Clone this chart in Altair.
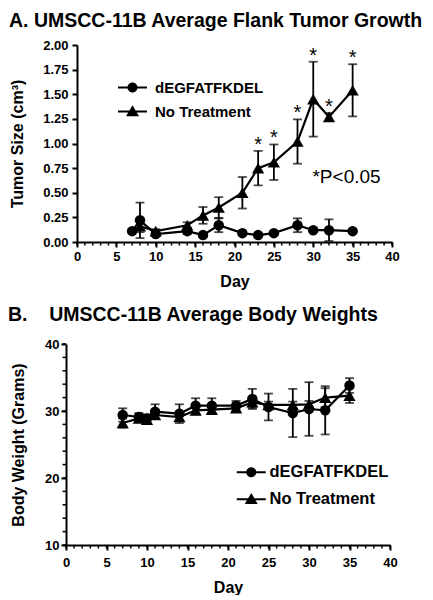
import altair as alt
import pandas as pd

FONT = "Liberation Sans"
G1 = "dEGFATFKDEL"
G2 = "No Treatment"

# ---------- Panel A: tumour size (cm^3), mean and error ----------
a_days_deg = [7, 8, 10, 14, 16, 18, 21, 23, 25, 28, 30, 32, 35]
a_mean_deg = [0.11, 0.22, 0.08, 0.11, 0.07, 0.17, 0.09, 0.07, 0.09, 0.17, 0.12, 0.12, 0.11]
a_err_deg = [0.02, 0.18, 0.02, 0.03, 0.02, 0.07, 0.02, 0.02, 0.02, 0.07, 0.02, 0.11, 0.02]
a_days_nt = [8, 10, 14, 16, 18, 21, 23, 25, 28, 30, 32, 35]
a_mean_nt = [0.16, 0.11, 0.17, 0.27, 0.35, 0.50, 0.75, 0.81, 1.02, 1.45, 1.27, 1.54]
a_err_nt = [0.06, 0.02, 0.03, 0.085, 0.105, 0.16, 0.175, 0.18, 0.225, 0.38, 0.04, 0.265]
a_star_days = [23, 25, 28, 30, 32, 35]
a_note_text = ["*P<0.05"]
a_note_day = [29.9]
a_note_value = [0.66]
a_y_ticks = [0, 0.25, 0.5, 0.75, 1.0, 1.25, 1.5, 1.75, 2.0]

# ---------- Panel B: body weight (grams), mean and error ----------
b_days = [7, 9, 10, 11, 14, 16, 18, 21, 23, 25, 28, 30, 32, 35]
b_mean_deg = [29.4, 29.1, 28.9, 29.9, 29.6, 30.8, 30.8, 30.8, 31.8, 30.6, 29.7, 30.3, 30.1, 33.8]
b_err_deg = [1.0, 0.6, 0.6, 1.1, 1.4, 1.1, 1.1, 0.7, 1.5, 2.0, 3.6, 4.0, 3.6, 1.1]
b_mean_nt = [28.2, 28.9, 28.7, 29.4, 29.1, 30.1, 30.2, 30.4, 31.3, 30.9, 30.9, 31.0, 32.0, 32.3]
b_err_nt = [0.7, 0.5, 0.5, 0.6, 0.6, 0.6, 0.5, 0.5, 0.8, 0.5, 0.5, 0.5, 1.4, 1.1]
b_y_ticks = [10, 20, 30, 40]
b_y_minor = list(range(10, 41, 2))

x_major = list(range(0, 41, 5))
x_minor = list(range(0, 41))

# legend symbols: marker with a line through it
CIRC = "M1,0A1,1,0,1,1,-1,0A1,1,0,1,1,1,0ZM-2.9,-0.2H2.9V0.2H-2.9Z"
TRI = "M0,-1.25L1.3,0.95L-1.3,0.95ZM-2.9,-0.2H2.9V0.2H-2.9Z"


def frame(days, mean, err, group):
    return pd.DataFrame({
        "day": days,
        "mean": mean,
        "lo": [m - e for m, e in zip(mean, err)],
        "hi": [m + e for m, e in zip(mean, err)],
        "group": group,
    })


def panel(df, ydom, yticks, yfmt, yminor, ytitle, ytitle_pad, ylabel_pad,
          xlabel_pad, xtitle_pad, w, h, shift, title, tdx, toff,
          lx, ly, loff, lrow, lfont, extras):
    # `shift` moves the left end of the x axis (and the y axis) left of the group origin
    xs = alt.Scale(domain=[0, 40], nice=False, zero=False, range=[-shift, w])
    ys = alt.Scale(domain=ydom, nice=False, zero=False)
    ax_x = alt.Axis(orient="bottom", values=x_major, title="Day", grid=False,
                    domainColor="black", domainWidth=2, tickColor="black",
                    tickWidth=2, tickSize=5, labelFont=FONT, labelFontSize=13,
                    labelFontWeight="bold", labelColor="black", labelPadding=xlabel_pad,
                    labelFlush=False, labelOverlap=False, titleFont=FONT, titleFontSize=16,
                    titleFontWeight="bold", titleColor="black", titlePadding=xtitle_pad)
    ax_y = alt.Axis(orient="left", values=yticks, format=yfmt, title=ytitle, offset=shift,
                    grid=False, domainColor="black", domainWidth=2,
                    tickColor="black", tickWidth=2, tickSize=5, labelFont=FONT,
                    labelFontSize=13, labelFontWeight="bold", labelColor="black",
                    labelPadding=ylabel_pad, labelFlush=False, labelOverlap=False,
                    titleFont=FONT, titleFontSize=16, titleFontWeight="bold",
                    titleColor="black", titlePadding=ytitle_pad)

    def X(field):
        return alt.X(field, scale=xs, axis=ax_x)

    def Y(field):
        return alt.Y(field, scale=ys, axis=ax_y)

    base = alt.Chart(df)
    lines = base.mark_line(color="black", strokeWidth=2.2).encode(
        x=X("day:Q"), y=Y("mean:Q"), detail="group:N",
    )
    stems = base.mark_rule(color="black", strokeWidth=1.8).encode(
        x=X("day:Q"), y=Y("lo:Q"), y2="hi:Q",
    )
    cap_hi = base.mark_tick(orient="horizontal", size=9, thickness=1.8, color="black").encode(
        x=X("day:Q"), y=Y("hi:Q"),
    )
    cap_lo = base.mark_tick(orient="horizontal", size=9, thickness=1.8, color="black").encode(
        x=X("day:Q"), y=Y("lo:Q"),
    )
    points = base.mark_point(filled=True, opacity=1, color="black").encode(
        x=X("day:Q"), y=Y("mean:Q"),
        shape=alt.Shape("group:N", scale=alt.Scale(domain=[G1, G2], range=["circle", "triangle-up"]),
                        legend=None),
        size=alt.Size("group:N", scale=alt.Scale(domain=[G1, G2], range=[110, 150]), legend=None),
    )
    # zero-size layer whose only job is to carry the legend (marker + line symbols)
    legend_layer = base.mark_point(filled=True, size=0, color="black").encode(
        x=X("day:Q"), y=Y("mean:Q"),
        shape=alt.Shape("group:N", scale=alt.Scale(domain=[G1, G2], range=[CIRC, TRI]),
                        legend=alt.Legend(
                            title=None, orient="none", legendX=lx, legendY=ly, padding=0,
                            labelFont=FONT, labelFontSize=lfont, labelFontWeight="bold",
                            labelColor="black", symbolSize=100, symbolFillColor="black",
                            symbolStrokeColor="black", symbolStrokeWidth=1, symbolOpacity=1,
                            labelOffset=loff, rowPadding=lrow)),
    )
    # minor ticks (every day on x; every 2 units on y where the original has them)
    xminor_df = pd.DataFrame({"day": x_minor})
    xminor = alt.Chart(xminor_df).mark_rule(color="black", strokeWidth=1.5).encode(
        x=X("day:Q"), y=alt.value(h), y2=alt.value(h + 3.5),
    )
    layers = [lines, xminor]
    if yminor:
        yminor_df = pd.DataFrame({"v": yminor})
        layers.append(alt.Chart(yminor_df).mark_rule(color="black", strokeWidth=1.5).encode(
            y=Y("v:Q"), x=alt.value(-shift - 3.5), x2=alt.value(-shift),
        ))
    layers += [stems, cap_hi, cap_lo, points, legend_layer] + [e(X, Y) for e in extras]
    return alt.layer(*layers).resolve_scale(shape="independent").properties(
        width=w, height=h,
        title=alt.Title(title, anchor="start", frame="group", dx=tdx, offset=toff,
                        baseline="alphabetic", font=FONT, fontSize=19.5,
                        fontWeight="bold", color="black"),
    )


df_a = pd.concat([frame(a_days_nt, a_mean_nt, a_err_nt, G2),
                  frame(a_days_deg, a_mean_deg, a_err_deg, G1)], ignore_index=True)
df_b = pd.concat([frame(b_days, b_mean_nt, b_err_nt, G2),
                  frame(b_days, b_mean_deg, b_err_deg, G1)], ignore_index=True)

nt_a = frame(a_days_nt, a_mean_nt, a_err_nt, G2)
stars_df = nt_a[nt_a["day"].isin(a_star_days)]
note_df = pd.DataFrame({"day": a_note_day, "value": a_note_value, "text": a_note_text})


def stars(X, Y):
    return alt.Chart(stars_df).mark_text(text="*", font=FONT, fontSize=20, color="black",
                                         align="center", baseline="alphabetic").encode(
        x=X("day:Q"), y=Y("hi:Q"),
    )


def note(X, Y):
    return alt.Chart(note_df).mark_text(font=FONT, fontSize=19, color="black",
                                        align="left", baseline="middle").encode(
        x=X("day:Q"), y=Y("value:Q"), text="text:N",
    )


top = panel(df_a, [0, 2], a_y_ticks, ".2f", None, "Tumor Size (cm³)", 17, 4, 3, 10,
            315, 197, 0, "A. UMSCC-11B Average Flank Tumor Growth", -68, -7,
            48, 35, 15, 7, 15, [stars, note])

bottom = panel(df_b, [10, 40], b_y_ticks, "d", b_y_minor, "Body Weight (Grams)", 18, 2, 6, 10,
               313, 201, 11, "B.\u00a0\u00a0\u00a0\u00a0UMSCC-11B Average Body Weights", -69, -2,
               166, 120, 10, 10, 16.5, [])

chart = alt.concat(top, bottom, columns=1, spacing=15).configure_view(
    stroke=None
).configure_axis(labelOverlap=False).properties(
    padding={"left": 0, "top": 2, "right": 0, "bottom": 0})

chart.save("out.html", embed_options={"renderer": "svg", "actions": False})
